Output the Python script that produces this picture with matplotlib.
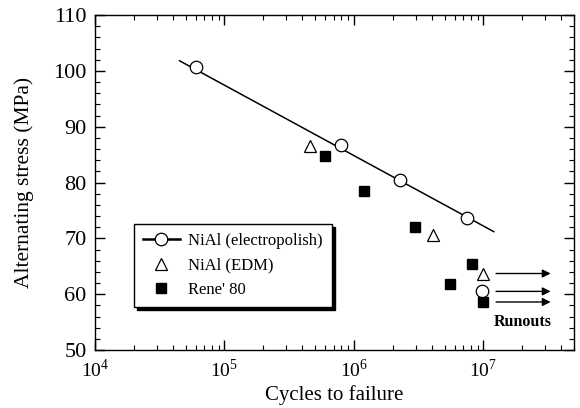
import matplotlib
matplotlib.use("Agg")
import matplotlib.pyplot as plt
import numpy as np
from matplotlib.ticker import LogLocator, MultipleLocator, FixedLocator, NullFormatter
from matplotlib.lines import Line2D

plt.rcParams['font.family'] = ['Liberation Serif', 'DejaVu Serif']
plt.rcParams['mathtext.fontset'] = 'custom'
plt.rcParams['mathtext.rm'] = 'Liberation Serif'

# Data
ep_cycles = [6.0e4, 7.9e5, 2.27e6, 7.5e6]
ep_stress = [100.7, 86.8, 80.5, 73.7]
edm_cycles = [4.6e5, 4.1e6]
edm_stress = [86.6, 70.6]
rene_cycles = [5.96e5, 1.2e6, 2.97e6, 5.5e6, 8.1e6]
rene_stress = [84.7, 78.5, 72.1, 61.9, 65.4]
fit_cycles = [4.5e4, 1.2e7]
fit_stress = [101.8, 71.2]
runout_ep = (9.7e6, 60.5)
runout_edm = (9.9e6, 63.7)
runout_rene = (1.0e7, 58.6)
arrow_start = 1.25e7
arrow_end = 3.3e7
arrow_levels = [63.7, 60.5, 58.6]
xtick_vals = [1e4, 1e5, 1e6, 1e7]
xtick_labels = [r'$10^4$', r'$10^5$', r'$10^6$', r'$10^7$']
ytick_vals = [50, 60, 70, 80, 90, 100, 110]
legend_labels = ['NiAl (electropolish)', 'NiAl (EDM)', "Rene' 80"]

fig = plt.figure(figsize=(5.8, 4.08), dpi=100)
ax = fig.add_axes([95/580, 58/408, 479/580, 335/408])

ms_sq = 7.5
ax.plot(fit_cycles, fit_stress, color='k', lw=1.1, zorder=2)
ax.plot(ep_cycles, ep_stress, 'o', ms=9, mfc='white', mec='k', mew=0.9, zorder=3)
ax.plot(edm_cycles, edm_stress, '^', ms=9, mfc='white', mec='k', mew=0.9, zorder=3)
ax.plot(rene_cycles, rene_stress, 's', ms=ms_sq, mfc='k', mec='k', zorder=3)
ax.plot([runout_ep[0]], [runout_ep[1]], 'o', ms=9, mfc='white', mec='k', mew=0.9, zorder=3)
ax.plot([runout_edm[0]], [runout_edm[1]], '^', ms=9, mfc='white', mec='k', mew=0.9, zorder=3)
ax.plot([runout_rene[0]], [runout_rene[1]], 's', ms=ms_sq, mfc='k', mec='k', zorder=3)

for yv in arrow_levels:
    ax.annotate('', xy=(arrow_end, yv), xytext=(arrow_start, yv),
                arrowprops=dict(arrowstyle='-|>', color='k', lw=1.0,
                                mutation_scale=12, shrinkA=0, shrinkB=0))

ax.text(2.0e7, 55.0, 'Runouts', fontsize=11.5, fontweight='bold',
        ha='center', va='center', family=['Liberation Serif'])

ax.set_xscale('log')
ax.set_xlim(1e4, 5e7)
ax.set_ylim(50, 110)
ax.set_yticks(ytick_vals)
ax.yaxis.set_minor_locator(MultipleLocator(2))
ax.xaxis.set_major_locator(FixedLocator(xtick_vals))
ax.xaxis.set_minor_locator(LogLocator(base=10, subs=np.arange(2, 10), numticks=20))
ax.xaxis.set_minor_formatter(NullFormatter())
ax.set_xticklabels(xtick_labels)

ax.tick_params(which='both', direction='in', top=True, right=True, color='k')
ax.tick_params(axis='y', which='major', length=7, width=1.0, labelsize=16, pad=6)
ax.tick_params(axis='x', which='major', length=7, width=1.0, labelsize=14, pad=6)
ax.tick_params(which='minor', length=3.5, width=0.8)
for s in ax.spines.values():
    s.set_linewidth(1.0)

ax.set_ylabel('Alternating stress (MPa)', fontsize=15.5, labelpad=14)
ax.set_xlabel('Cycles to failure', fontsize=15, labelpad=3)

handles = [
    Line2D([], [], color='k', lw=1.8, marker='o', ms=9, mfc='white', mec='k', mew=0.9),
    Line2D([], [], ls='none', marker='^', ms=9, mfc='white', mec='k', mew=0.9),
    Line2D([], [], ls='none', marker='s', ms=ms_sq, mfc='k', mec='k'),
]
leg = ax.legend(handles, legend_labels, loc='lower left', bbox_to_anchor=(0.081, 0.128),
                fontsize=12, frameon=True, fancybox=False, edgecolor='k',
                shadow={'color': 'k', 'alpha': 1.0, 'ox': 2, 'oy': -2},
                handlelength=2.2, labelspacing=0.5, borderpad=0.55, handletextpad=0.5,
                borderaxespad=0)
leg.get_frame().set_linewidth(1.0)

fig.savefig('out.png', dpi=100)
